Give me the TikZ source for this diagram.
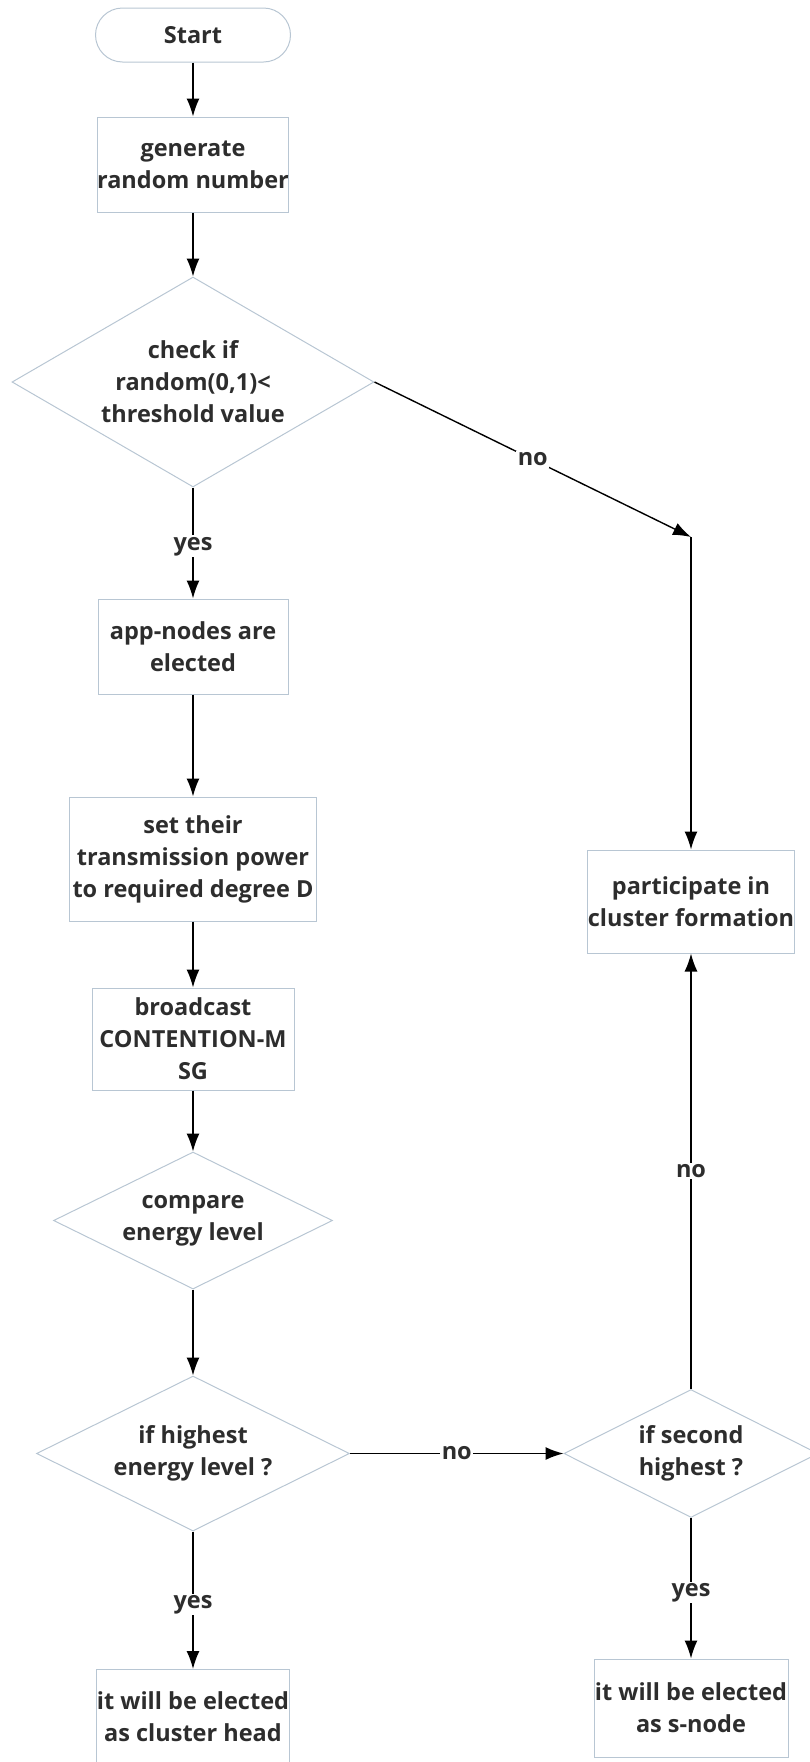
\documentclass[tikz,border=0pt]{standalone}
\usepackage{fontspec}
\setmainfont{Open Sans}
\usetikzlibrary{shapes.geometric,arrows.meta}
\definecolor{edgegray}{RGB}{184,198,211}
\definecolor{txtgray}{RGB}{45,45,45}
\begin{document}
\begin{tikzpicture}[x=1pt,y=-1pt,>={Latex[length=18pt,width=13pt]},
    every node/.style={font=\fontsize{23.5}{32}\selectfont\bfseries,text=txtgray,align=center},
    box/.style={draw=edgegray,line width=1pt,inner sep=0pt},
    dia/.style={draw=edgegray,line width=1pt,diamond,aspect=2,inner sep=0pt},
    lbl/.style={fill=white,inner sep=1.5pt},
    flow/.style={->,line width=1.4pt}]
\useasboundingbox (0,0) rectangle (810,1762);
\node[box,rounded corners=27pt,minimum width=195pt,minimum height=54pt] (start) at (193,35) {Start};
\node[box,minimum width=191pt,minimum height=95pt] (gen) at (193,164.5) {generate\\random number};
\node[dia,aspect=1.7,minimum width=362pt,minimum height=210pt] (check) at (193,382) {check if\\random(0,1)<\\threshold value};
\node[box,minimum width=190pt,minimum height=95pt] (app) at (193,646.5) {app-nodes are\\elected};
\node[box,minimum width=247pt,minimum height=124pt] (power) at (193,859) {set their\\transmission power\\to required degree D};
\node[box,minimum width=202pt,minimum height=102pt] (bcast) at (193,1039) {broadcast\\CONTENTION-M\\SG};
\node[dia,minimum width=279pt,minimum height=137pt] (cmp) at (193,1220.5) {compare\\energy level};
\node[dia,minimum width=313pt,minimum height=155pt] (high) at (193,1453.5) {if highest\\energy level ?};
\node[box,minimum width=193pt,minimum height=95pt] (head) at (193,1717) {it will be elected\\as cluster head};
\node[box,minimum width=206pt,minimum height=103pt] (part) at (691,901.5) {participate in\\cluster formation};
\node[dia,minimum width=254pt,minimum height=128pt] (second) at (691,1453.5) {if second\\highest ?};
\node[box,minimum width=194pt,minimum height=98pt] (snode) at (691,1708) {it will be elected\\as s-node};
\coordinate (turn) at (691,537);
\draw[flow] (start) -- (gen);
\draw[flow] (gen) -- (check);
\draw[flow] (check.south) -- node[lbl,pos=.53]{yes} (app.north);
\draw[flow] (check.east) -- node[lbl]{no} (turn);
\draw[flow] (turn) -- (part.north);
\draw[flow] (app) -- (power);
\draw[flow] (power) -- (bcast);
\draw[flow] (bcast) -- (cmp);
\draw[flow] (cmp) -- (high);
\draw[flow] (high.east) -- node[lbl]{no} (second.west);
\draw[flow] (high.south) -- node[lbl,pos=.53]{yes} (head.north);
\draw[flow] (second.north) -- node[lbl]{no} (part.south);
\draw[flow] (second.south) -- node[lbl,pos=.53]{yes} (snode.north);
\end{tikzpicture}
\end{document}
